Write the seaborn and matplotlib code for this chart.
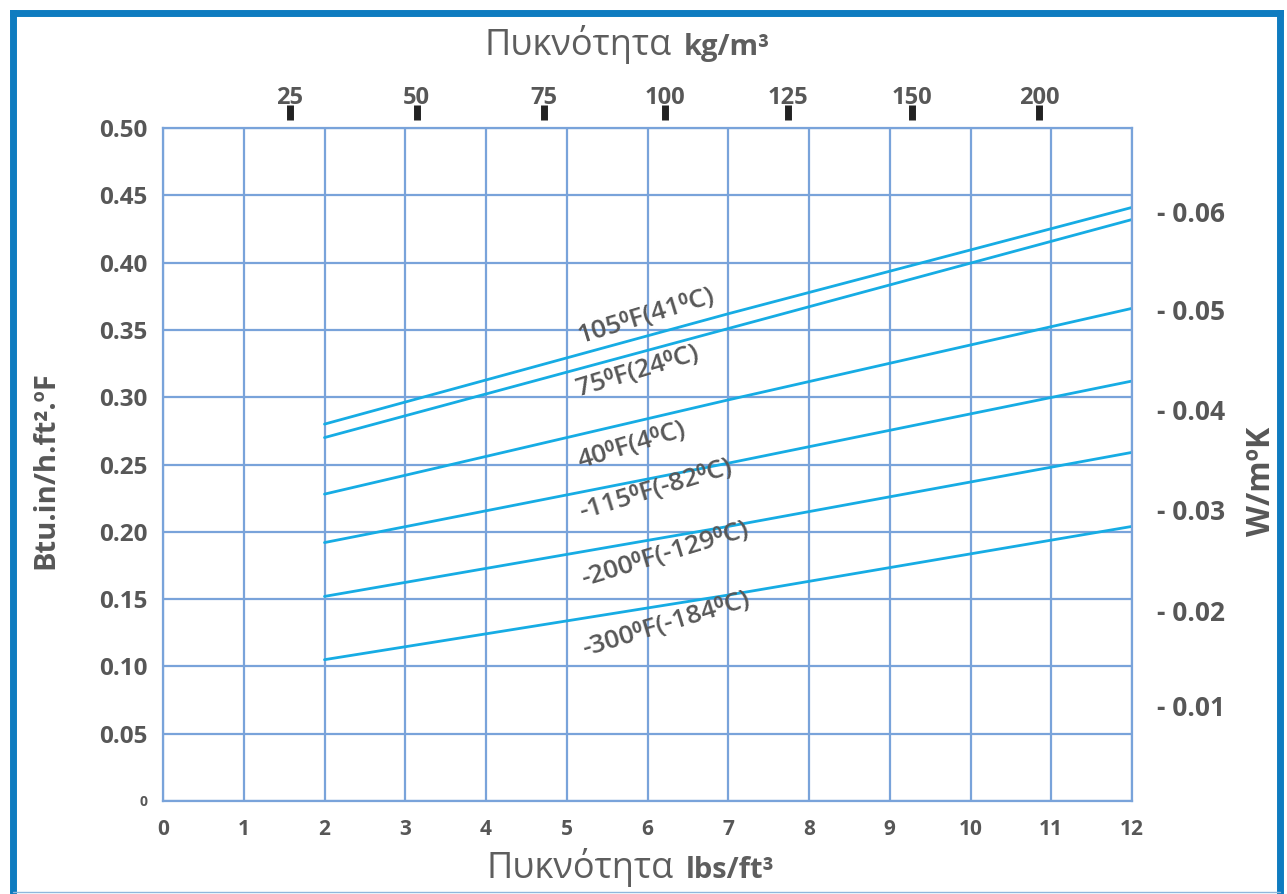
import matplotlib
matplotlib.use("Agg")
import matplotlib.pyplot as plt
from matplotlib.lines import Line2D
import numpy as np
import pandas as pd
import seaborn as sns

# Density (lbs/ft3) sample points and thermal conductivity (Btu.in/h.ft2.F)
density_lb = [2, 7, 12]
k_105F = [0.280, 0.362, 0.441]
k_75F = [0.270, 0.351, 0.432]
k_40F = [0.228, 0.298, 0.366]
k_m115F = [0.192, 0.251, 0.312]
k_m200F = [0.152, 0.204, 0.259]
k_m300F = [0.105, 0.153, 0.204]

series_labels = ["105⁰F(41⁰C)", "75⁰F(24⁰C)", "40⁰F(4⁰C)",
                 "-115⁰F(-82⁰C)", "-200⁰F(-129⁰C)", "-300⁰F(-184⁰C)"]
series_values = [k_105F, k_75F, k_40F, k_m115F, k_m200F, k_m300F]
label_x = [5.98, 5.88, 5.81, 6.10, 6.22, 6.23]
label_y = [0.360, 0.319, 0.264, 0.231, 0.183, 0.131]

# Bottom / left axis ticks
x_ticks = list(range(0, 13))
y_ticks = [0, 0.05, 0.10, 0.15, 0.20, 0.25, 0.30, 0.35, 0.40, 0.45, 0.50]

# Top axis: kg/m3 labels placed along the lbs/ft3 axis
kgm3_labels = ["25", "50", "75", "100", "125", "150", "200"]
kgm3_pos = [1.57, 3.14, 4.72, 6.22, 7.74, 9.28, 10.85]

# Right axis: W/mK labels placed along the Btu axis
wmk_labels = ["0.01", "0.02", "0.03", "0.04", "0.05", "0.06"]
wmk_pos = [0.0706, 0.1419, 0.2169, 0.2905, 0.3648, 0.4376]

sns.set_theme(style="white")
plt.rcParams["font.family"] = ["Open Sans", "DejaVu Sans"]

TEXT = "#575757"
TITLE = "#5e5e5e"
GRID = "#79a3da"
LINE = "#16ace4"
FRAME = "#0f7cc0"

W, H = 1287, 894


def fx(px):
    return px / W


def fy(py):
    return 1 - py / H


rows = []
for name, vals in zip(series_labels, series_values):
    for x, y in zip(density_lb, vals):
        rows.append({"density": x, "k": y, "series": name})
df = pd.DataFrame(rows)

fig = plt.figure(figsize=(W / 100, H / 100), dpi=100)
ax = fig.add_axes([fx(163), fy(801), (1132 - 163) / W, (801 - 128) / H])

sns.lineplot(data=df, x="density", y="k", hue="series",
             palette=[LINE] * len(series_labels), linewidth=2.0,
             legend=False, ax=ax)

ax.set_xlim(0, 12)
ax.set_ylim(0, 0.5)
ax.tick_params(axis="both", length=0)
ax.tick_params(axis="x", pad=13)
ax.tick_params(axis="y", pad=11)
ax.set_xticks(x_ticks)
ax.set_xticklabels([str(v) for v in x_ticks], fontsize=15, fontweight="bold", color=TEXT)
ax.set_yticks(y_ticks)
ylabels = ["0"] + [f"{v:.2f}" for v in y_ticks[1:]]
ax.set_yticklabels(ylabels, fontsize=17.5, fontweight="bold", color=TEXT)
ax.get_yticklabels()[0].set_fontsize(10)
ax.grid(True, color=GRID, linewidth=1.6)
for sp in ax.spines.values():
    sp.set_color(GRID)
    sp.set_linewidth(1.6)
ax.set_xlabel("")
ax.set_ylabel("")

for name, x, y in zip(series_labels, label_x, label_y):
    ax.text(x, y, name, fontsize=19, fontweight="semibold", color=TEXT,
            rotation=17, ha="center", va="center", rotation_mode="anchor")

# Top axis in kg/m3
axt = ax.twiny()
axt.set_xlim(ax.get_xlim())
axt.spines["top"].set_position(("outward", 6))
for sp in axt.spines.values():
    sp.set_visible(False)
axt.tick_params(axis="x", direction="out", length=11, width=5, color="#222222", pad=-4)
axt.set_xticks(kgm3_pos)
axt.set_xticklabels(kgm3_labels, fontsize=17, fontweight="bold", color=TEXT)

# Right axis in W/mK
axr = ax.twinx()
axr.set_ylim(ax.get_ylim())
for sp in axr.spines.values():
    sp.set_visible(False)
axr.tick_params(axis="y", length=0, pad=18)
axr.set_yticks(wmk_pos)
axr.set_yticklabels(["- " + s for s in wmk_labels], fontsize=19, fontweight="bold", color=TEXT)

# Axis titles: regular Greek word followed by a bold unit on the same baseline
renderer = fig.canvas.get_renderer()
for px, py, unit in [(485, 55, "kg/m³"), (487, 878, "lbs/ft³")]:
    word = fig.text(fx(px), fy(py), "Πυκνότητα", fontsize=26, color=TITLE,
                    ha="left", va="baseline")
    x_end = word.get_window_extent(renderer).x1
    fig.text(fx(x_end + 12), fy(py), unit, fontsize=21, fontweight="bold",
             color=TITLE, ha="left", va="baseline")

fig.text(fx(46), fy(470), "Btu.in/h.ft².ºF", fontsize=21, fontweight="bold",
         color=TEXT, rotation=90, ha="center", va="center")
fig.text(fx(1262), fy(481), "W/mºK", fontsize=23, fontweight="bold",
         color=TEXT, rotation=90, ha="center", va="center")

# Outer frame
frame_kw = dict(transform=fig.transFigure, color=FRAME, linewidth=5,
                solid_capstyle="projecting")
fig.add_artist(Line2D([fx(13), fx(13)], [0, fy(13)], **frame_kw))
fig.add_artist(Line2D([fx(13), fx(1280)], [fy(13), fy(13)], **frame_kw))
fig.add_artist(Line2D([fx(1280), fx(1280)], [fy(13), 0], **frame_kw))
fig.add_artist(Line2D([fx(13), fx(1280)], [fy(892), fy(892)],
                      transform=fig.transFigure, color="#8fb8dc", linewidth=1))

fig.savefig("out.png", dpi=100)
